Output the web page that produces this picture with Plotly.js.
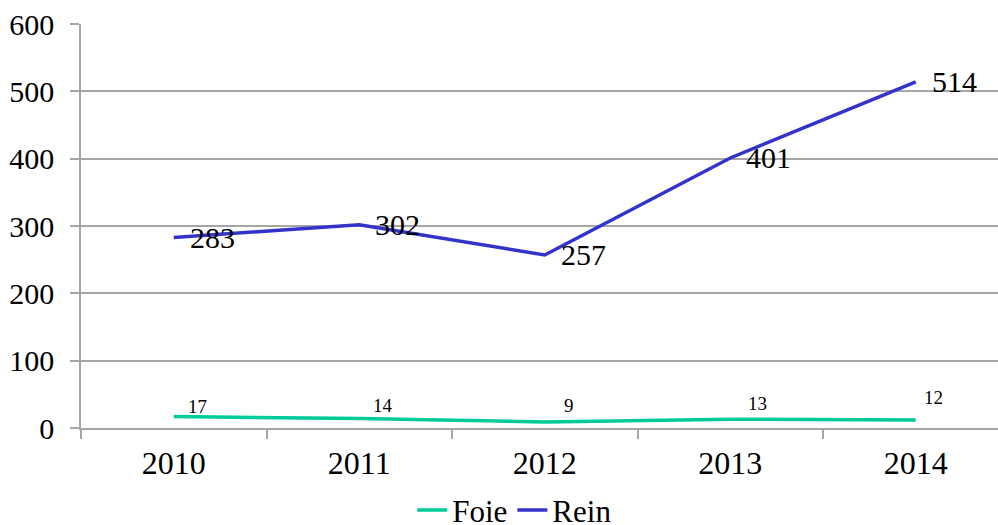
<!DOCTYPE html>
<html>
<head>
<meta charset="utf-8">
<script src="https://cdn.plot.ly/plotly-3.0.1.min.js"></script>
<style>
  html, body { margin: 0; padding: 0; background: #fff; }
  #chart { width: 998px; height: 525px; }
</style>
</head>
<body>
<div id="chart"></div>
<script>
// Data
var years = ['2010', '2011', '2012', '2013', '2014'];
var foie = [17, 14, 9, 13, 12];
var rein = [283, 302, 257, 401, 514];
var yTicks = [0, 100, 200, 300, 400, 500, 600];

// Styling (label pixel offsets, not data)
var foieShiftX = [24, 24, 24, 27, 18];
var foieShiftY = [10, 13, 16, 16, 22];
var reinShiftX = 14;

var FONT = 'Liberation Serif';
var GRID = '#A6A6A6';

var traces = [
  { x: years, y: foie, name: 'Foie', type: 'scatter', mode: 'lines',
    line: { color: '#00CC99', width: 3.5 }, hoverinfo: 'skip' },
  { x: years, y: rein, name: 'Rein', type: 'scatter', mode: 'lines',
    line: { color: '#3333CC', width: 3.5 }, hoverinfo: 'skip' }
];

var annotations = [];
for (var i = 0; i < years.length; i++) {
  annotations.push({
    x: i, y: rein[i], xref: 'x', yref: 'y', text: String(rein[i]),
    showarrow: false, xanchor: 'left', yanchor: 'middle', xshift: reinShiftX,
    font: { family: FONT, size: 30, color: '#000000' }
  });
  annotations.push({
    x: i, y: foie[i], xref: 'x', yref: 'y', text: String(foie[i]),
    showarrow: false, xanchor: 'center', yanchor: 'middle',
    xshift: foieShiftX[i], yshift: foieShiftY[i],
    font: { family: FONT, size: 19, color: '#000000' }
  });
}

var spacing = 185.5;
var plotW = 998 - 81;
var layout = {
  width: 998, height: 525,
  margin: { l: 81, r: 0, t: 24, b: 97, autoexpand: false },
  paper_bgcolor: '#ffffff', plot_bgcolor: '#ffffff',
  font: { family: FONT, color: '#000000' },
  showlegend: true,
  legend: {
    orientation: 'h', x: 0.473, xanchor: 'center', y: -0.137, yanchor: 'top',
    font: { family: FONT, size: 31, color: '#000000' },
    itemwidth: 30, traceorder: 'normal'
  },
  xaxis: {
    type: 'category',
    range: [-0.5, -0.5 + plotW / spacing],
    tickson: 'boundaries',
    ticks: 'outside', ticklen: 9, tickwidth: 1.5, tickcolor: GRID,
    showline: true, linecolor: GRID, linewidth: 1.5,
    showgrid: false, zeroline: false,
    tickfont: { family: FONT, size: 32, color: '#000000' },
    ticklabelstandoff: 6,
    fixedrange: true
  },
  yaxis: {
    range: [0, 600],
    tickvals: yTicks, ticktext: yTicks.map(String),
    ticks: 'outside', ticklen: 9, tickwidth: 1.5, tickcolor: GRID,
    showline: true, linecolor: GRID, linewidth: 1.5,
    showgrid: true, gridcolor: GRID, gridwidth: 1.5,
    zeroline: false,
    tickfont: { family: FONT, size: 30, color: '#000000' },
    ticklabelstandoff: 10,
    fixedrange: true
  },
  annotations: annotations
};

Plotly.newPlot('chart', traces, layout, { displayModeBar: false });
</script>
</body>
</html>
